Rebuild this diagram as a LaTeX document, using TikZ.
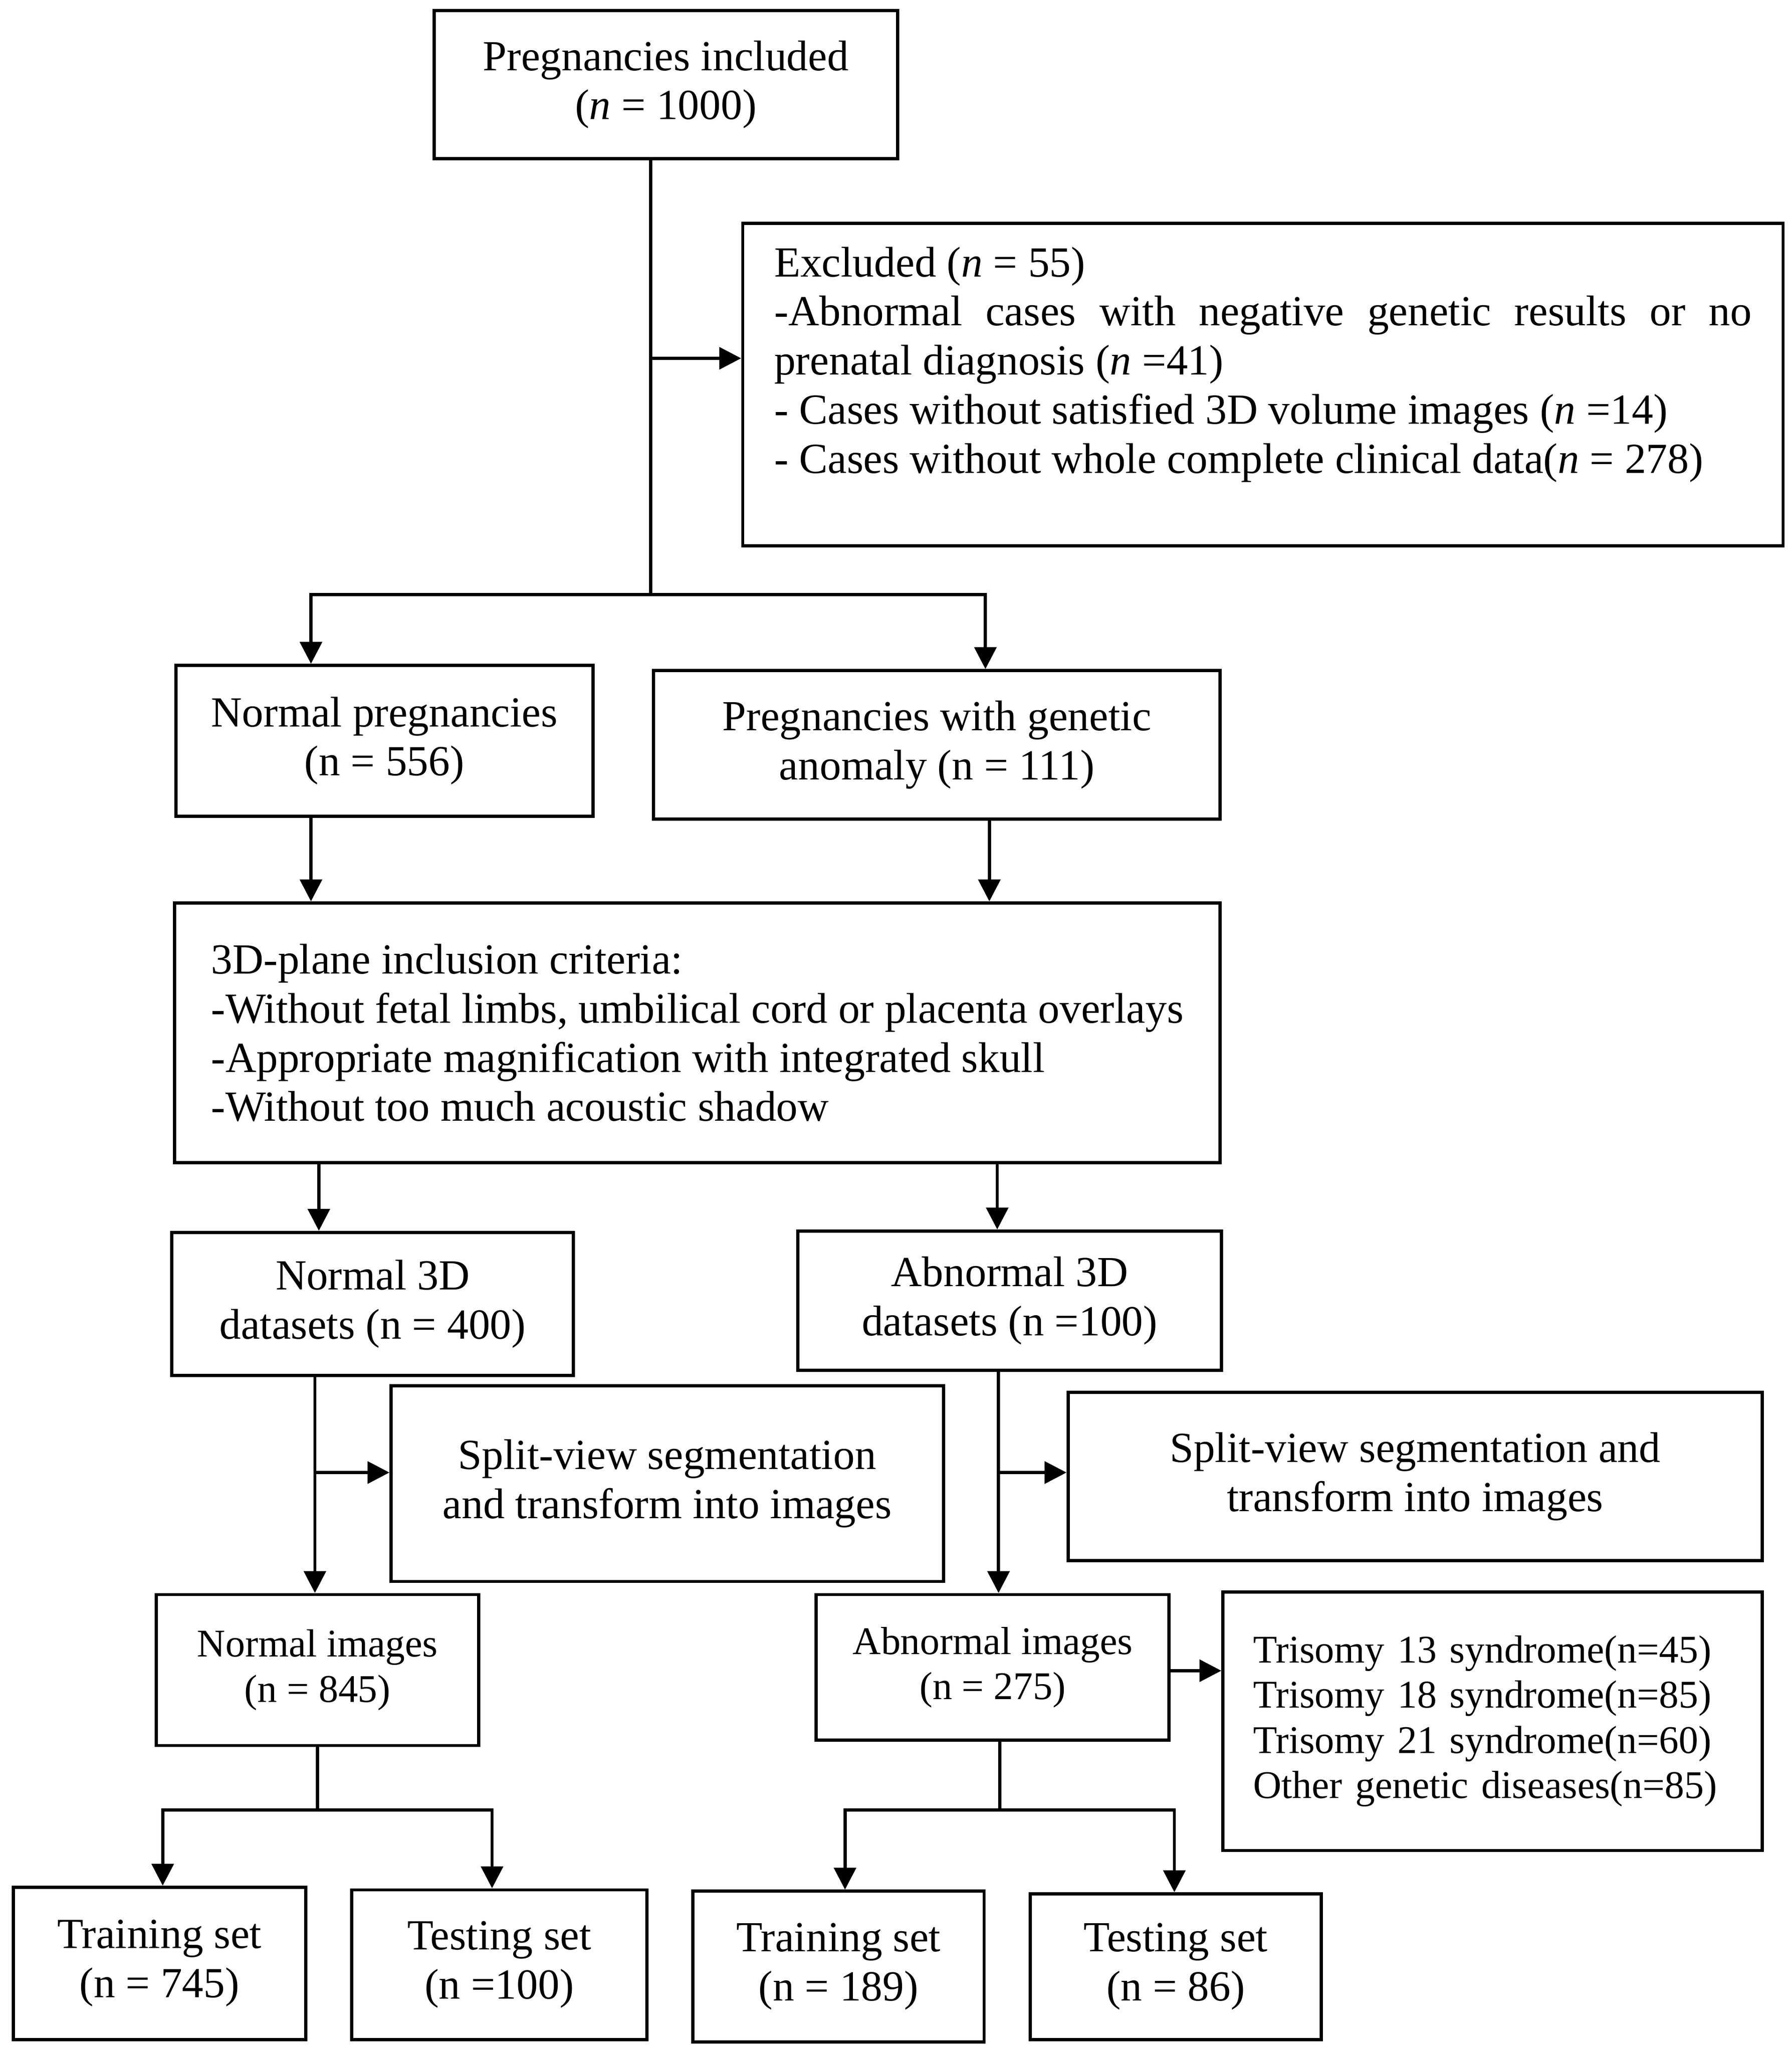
\documentclass[tikz,border=0pt]{standalone}
\usepackage{fontspec}
\setmainfont{Liberation Serif}
\usetikzlibrary{arrows.meta}

\begin{document}
\begin{tikzpicture}[x=0.02cm, y=-0.02cm,
    box/.style={draw, line width=1.4pt, inner sep=0pt, align=center,
      font=\fontsize{18.6}{21.3}\selectfont},
    smallbox/.style={box, font=\fontsize{17}{19.6}\selectfont},
    conn/.style={line width=1.4pt},
    arr/.style={conn, -{Triangle[length=9.5pt,width=9.5pt]}}]
    \useasboundingbox (0,0) rectangle (1365.4,1564.3);

    \node[box, minimum width=7.06cm, minimum height=2.26cm] (top) at (507.5,64.5)
      {Pregnancies included\\(\textit{n} = 1000)};
    \node[box, align=justify, text width=14.9cm, inner xsep=0.48cm,
      minimum width=15.86cm, minimum height=4.92cm] (excl) at (962.5,293)
      {Excluded (\textit{n} = 55)\par
       -Abnormal cases with negative genetic results or no\linebreak
       prenatal diagnosis (\textit{n} =41)\par
       - Cases without satisfied 3D volume images (\textit{n} =14)\par
       - Cases without whole complete clinical data(\textit{n} = 278)\par\mbox{}};
    \node[box, minimum width=6.36cm, minimum height=2.3cm] (normp) at (293,564.5)
      {Normal pregnancies\\(n = 556)};
    \node[box, minimum width=8.64cm, minimum height=2.26cm] (genp) at (714,567.5)
      {Pregnancies with genetic\\anomaly (n = 111)};
    \node[box, align=left, minimum width=15.94cm, minimum height=3.96cm] (crit) at (531.5,787)
      {3D-plane inclusion criteria:\\
       -Without fetal limbs, umbilical cord or placenta overlays\\
       -Appropriate magnification with integrated skull\\
       -Without too much acoustic shadow};
    \node[box, minimum width=6.12cm, minimum height=2.18cm] (n3d) at (284,993.5)
      {Normal 3D\\datasets (n = 400)};
    \node[box, minimum width=6.46cm, minimum height=2.12cm] (a3d) at (769.5,991)
      {Abnormal 3D\\datasets (n =100)};
    \node[box, minimum width=8.42cm, minimum height=2.98cm] (split1) at (508.5,1130.5)
      {Split-view segmentation\\and transform into images};
    \node[box, minimum width=10.58cm, minimum height=2.56cm] (split2) at (1078.5,1125)
      {Split-view segmentation and\\transform into images};
    \node[smallbox, minimum width=4.92cm, minimum height=2.3cm] (nimg) at (242,1272.5)
      {Normal images\\(n = 845)};
    \node[smallbox, minimum width=5.38cm, minimum height=2.22cm] (aimg) at (756.5,1270.5)
      {Abnormal images\\(n = 275)};
    \node[smallbox, align=left, text width=7.3cm, inner xsep=0.46cm,
      minimum width=8.22cm, minimum height=3.94cm] (tri) at (1137.5,1311.5)
      {Trisomy 13 syndrome(n=45)\\
       Trisomy 18 syndrome(n=85)\\
       Trisomy 21 syndrome(n=60)\\
       Other genetic diseases(n=85)};
    \node[box, minimum width=4.46cm, minimum height=2.32cm] (tr1) at (121.5,1496)
      {Training set\\(n = 745)};
    \node[box, minimum width=4.5cm, minimum height=2.28cm] (te1) at (380.5,1497)
      {Testing set\\(n =100)};
    \node[box, minimum width=4.44cm, minimum height=2.3cm] (tr2) at (639,1498.5)
      {Training set\\(n = 189)};
    \node[box, minimum width=4.44cm, minimum height=2.22cm] (te2) at (896,1498.5)
      {Testing set\\(n = 86)};

    \coordinate (j1) at (496,453);
    \coordinate (e1) at (496,273);
    \draw[conn] (top.south -| j1) -- (j1);
    \draw[arr] (e1) -- (e1 -| excl.west);
    \draw[arr] (j1) -| (237,0 |- normp.north);
    \draw[arr] (j1) -| (751,0 |- genp.north);

    \draw[arr] (237,0 |- normp.south) -- (237,0 |- crit.north);
    \draw[arr] (754,0 |- genp.south) -- (754,0 |- crit.north);
    \draw[arr] (243,0 |- crit.south) -- (243,0 |- n3d.north);
    \draw[arr] (760,0 |- crit.south) -- (760,0 |- a3d.north);

    \coordinate (s1) at (240,1122);
    \coordinate (s2) at (761,1122);
    \draw[arr] (s1 |- n3d.south) -- (s1 |- nimg.north);
    \draw[arr] (s1) -- (s1 -| split1.west);
    \draw[arr] (s2 |- a3d.south) -- (s2 |- aimg.north);
    \draw[arr] (s2) -- (s2 -| split2.west);
    \draw[arr] (aimg.east |- 0,1273) -- (0,1273 -| tri.west);

    \coordinate (j2) at (242,1379);
    \coordinate (j3) at (762,1379);
    \draw[conn] (j2 |- nimg.south) -- (j2);
    \draw[arr] (j2) -| (124,0 |- tr1.north);
    \draw[arr] (j2) -| (375,0 |- te1.north);
    \draw[conn] (j3 |- aimg.south) -- (j3);
    \draw[arr] (j3) -| (644,0 |- tr2.north);
    \draw[arr] (j3) -| (895,0 |- te2.north);
\end{tikzpicture}
\end{document}
